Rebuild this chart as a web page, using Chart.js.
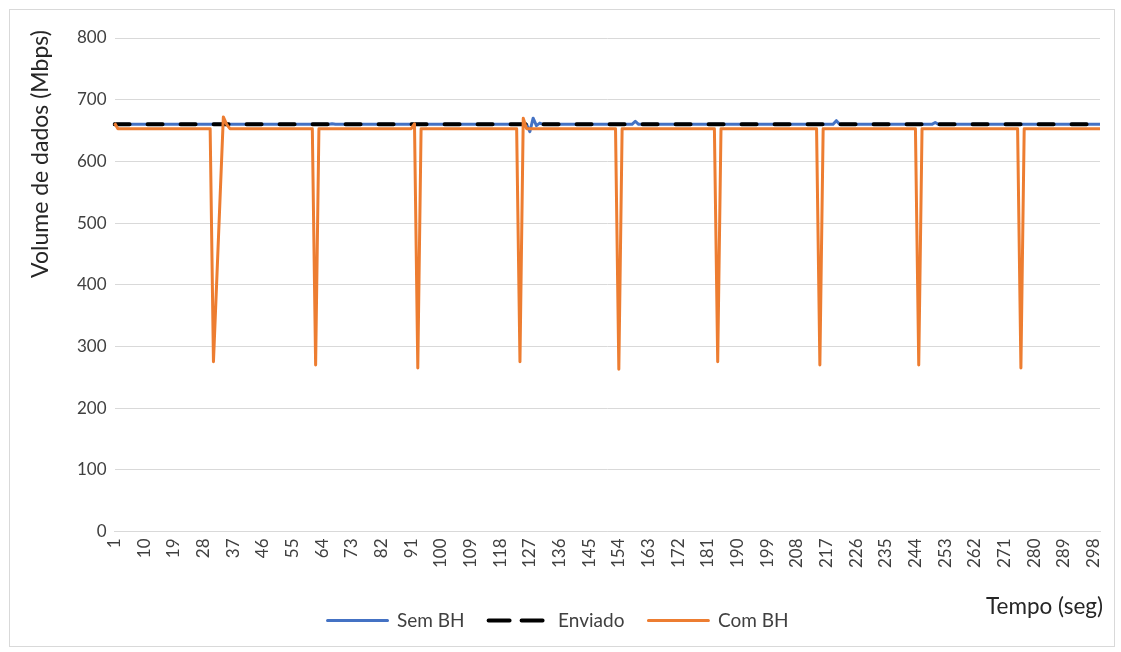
<!DOCTYPE html>
<html>
<head>
<meta charset="utf-8">
<script src="https://cdn.jsdelivr.net/npm/chart.js@4.4.1/dist/chart.umd.min.js"></script>
<style>
  html, body { margin: 0; padding: 0; background: #ffffff; }
  #wrap { position: relative; width: 1121px; height: 652px; }
  #frame { position: absolute; left: 9px; top: 9px; width: 1106px; height: 638px; border: 1px solid #d9d9d9; box-sizing: border-box; pointer-events: none; }
</style>
</head>
<body>
<div id="wrap">
  <canvas id="c" width="1121" height="652"></canvas>
  <div id="frame"></div>
</div>
<script>
// ---- Data ----
const tempo = [];
for (let t = 1; t <= 300; t++) tempo.push(String(t)); // category labels 1..300

const semBH = [
660,660,660,660,660,660,660,660,660,660,660,660,660,660,660,660,660,660,660,660,
660,660,660,660,660,660,660,660,660,660,660,660,660,660,660,660,660,660,660,660,
660,660,660,660,660,660,660,660,660,660,660,660,660,660,660,660,660,660,660,660,
660,660,660,660,660,660,661,660,660,660,660,660,660,660,660,660,660,660,660,660,
660,660,660,660,660,660,660,660,660,660,660,660,660,660,660,660,660,660,660,660,
660,660,660,660,660,660,660,660,660,660,660,660,660,660,660,660,660,660,660,660,
660,660,660,660,660,660,648,670,658,662,660,660,660,660,660,660,660,660,660,660,
660,660,660,660,660,660,660,660,660,660,660,660,660,660,660,660,660,660,665,660,
660,660,660,660,660,660,660,660,660,660,660,660,660,660,660,660,660,660,660,660,
660,660,660,660,660,660,660,660,660,660,660,660,660,660,660,660,660,660,660,660,
660,660,660,660,660,660,660,660,660,660,660,660,660,660,660,660,660,660,660,666,
660,660,660,660,660,660,660,660,660,660,660,660,660,660,660,660,660,660,660,660,
660,660,660,660,660,660,660,660,660,663,660,660,660,660,660,660,660,660,660,660,
660,660,660,660,660,660,660,660,660,660,660,660,660,660,660,660,660,660,660,660,
660,660,660,660,660,660,660,660,660,660,660,660,660,660,660,660,660,660,660,660
];

const enviado = [
660,660,660,660,660,660,660,660,660,660,660,660,660,660,660,660,660,660,660,660,
660,660,660,660,660,660,660,660,660,660,660,660,660,660,660,660,660,660,660,660,
660,660,660,660,660,660,660,660,660,660,660,660,660,660,660,660,660,660,660,660,
660,660,660,660,660,660,660,660,660,660,660,660,660,660,660,660,660,660,660,660,
660,660,660,660,660,660,660,660,660,660,660,660,660,660,660,660,660,660,660,660,
660,660,660,660,660,660,660,660,660,660,660,660,660,660,660,660,660,660,660,660,
660,660,660,660,660,660,660,660,660,660,660,660,660,660,660,660,660,660,660,660,
660,660,660,660,660,660,660,660,660,660,660,660,660,660,660,660,660,660,660,660,
660,660,660,660,660,660,660,660,660,660,660,660,660,660,660,660,660,660,660,660,
660,660,660,660,660,660,660,660,660,660,660,660,660,660,660,660,660,660,660,660,
660,660,660,660,660,660,660,660,660,660,660,660,660,660,660,660,660,660,660,660,
660,660,660,660,660,660,660,660,660,660,660,660,660,660,660,660,660,660,660,660,
660,660,660,660,660,660,660,660,660,660,660,660,660,660,660,660,660,660,660,660,
660,660,660,660,660,660,660,660,660,660,660,660,660,660,660,660,660,660,660,660,
660,660,660,660,660,660,660,660,660,660,660,660,660,660,660,660,660,660,660,660
];

const comBH = [
662,653,653,653,653,653,653,653,653,653,653,653,653,653,653,653,653,653,653,653,
653,653,653,653,653,653,653,653,653,653,275,407,540,672,660,653,653,653,653,653,
653,653,653,653,653,653,653,653,653,653,653,653,653,653,653,653,653,653,653,653,
653,270,653,653,653,653,653,653,653,653,653,653,653,653,653,653,653,653,653,653,
653,653,653,653,653,653,653,653,653,653,653,661,265,653,653,653,653,653,653,653,
653,653,653,653,653,653,653,653,653,653,653,653,653,653,653,653,653,653,653,653,
653,653,653,275,670,653,653,653,653,653,653,653,653,653,653,653,653,653,653,653,
653,653,653,653,653,653,653,653,653,653,653,653,653,263,653,653,653,653,653,653,
653,653,653,653,653,653,653,653,653,653,653,653,653,653,653,653,653,653,653,653,
653,653,653,275,653,653,653,653,653,653,653,653,653,653,653,653,653,653,653,653,
653,653,653,653,653,653,653,653,653,653,653,653,653,653,270,653,653,653,653,653,
653,653,653,653,653,653,653,653,653,653,653,653,653,653,653,653,653,653,653,653,
653,653,653,653,270,653,653,653,653,653,653,653,653,653,653,653,653,653,653,653,
653,653,653,653,653,653,653,653,653,653,653,653,653,653,653,265,653,653,653,653,
653,653,653,653,653,653,653,653,653,653,653,653,653,653,653,653,653,653,653,653
];

const yTicks = [0, 100, 200, 300, 400, 500, 600, 700, 800];
const xLabelStep = 9;
const seriesNames = ['Sem BH', 'Enviado', 'Com BH'];
const yTitle = 'Volume de dados (Mbps)';
const xTitle = 'Tempo (seg)';

const FONT = 'Lato, "Open Sans", "Liberation Sans", sans-serif';

// Draws axis titles as text at the positions used in the reference
const titlesPlugin = {
  id: 'titles',
  afterDraw(chart) {
    const ctx = chart.ctx;
    ctx.save();
    ctx.fillStyle = '#262626';
    ctx.font = '23px ' + FONT;
    ctx.translate(41, 154);
    ctx.rotate(-Math.PI / 2);
    ctx.textAlign = 'center';
    ctx.textBaseline = 'middle';
    ctx.fillText(yTitle, 0, 0);
    ctx.restore();
    ctx.save();
    ctx.fillStyle = '#262626';
    ctx.font = '22.5px ' + FONT;
    ctx.textAlign = 'right';
    ctx.textBaseline = 'middle';
    ctx.fillText(xTitle, 1103, 607);
    ctx.restore();
  }
};

new Chart(document.getElementById('c'), {
  type: 'line',
  data: {
    labels: tempo,
    datasets: [
      { label: seriesNames[0], data: semBH, borderColor: '#4472C4', backgroundColor: '#4472C4', borderWidth: 3, order: 2 },
      { label: seriesNames[1], data: enviado, borderColor: '#000000', backgroundColor: '#000000', borderWidth: 4, borderDash: [15, 18], borderCapStyle: 'round', order: 1 },
      { label: seriesNames[2], data: comBH, borderColor: '#ED7D31', backgroundColor: '#ED7D31', borderWidth: 3, order: 0 }
    ]
  },
  options: {
    responsive: false,
    animation: false,
    events: [],
    elements: { point: { radius: 0 }, line: { tension: 0, borderJoinStyle: 'round' } },
    layout: { padding: { left: 16, right: 21, top: 38, bottom: 12 } },
    plugins: {
      legend: {
        position: 'bottom',
        labels: {
          sort: (a, b) => a.datasetIndex - b.datasetIndex,
          boxWidth: 60,
          boxHeight: 0,
          padding: 24,
          color: '#404040',
          font: { family: FONT, size: 19 }
        }
      },
      tooltip: { enabled: false }
    },
    scales: {
      x: {
        type: 'category',
        offset: false,
        grid: { display: false, drawTicks: false },
        border: { display: true, color: '#d9d9d9', width: 1 },
        afterFit: (scale) => { scale.height += 12; scale.paddingRight = 0; scale.paddingLeft = 0; },
        ticks: {
          autoSkip: false,
          minRotation: 90,
          maxRotation: 90,
          padding: 7,
          color: '#404040',
          font: { family: FONT, size: 17 },
          callback: function (v, i) { return i % xLabelStep === 0 ? tempo[i] : ''; }
        }
      },
      y: {
        min: yTicks[0],
        max: yTicks[yTicks.length - 1],
        afterBuildTicks: (axis) => { axis.ticks = yTicks.map(v => ({ value: v })); },
        afterFit: (scale) => { scale.width += 53; },
        grid: { color: '#d9d9d9', lineWidth: 1, drawTicks: false },
        border: { display: false },
        ticks: {
          padding: 8,
          color: '#404040',
          font: { family: FONT, size: 17 }
        }
      }
    }
  },
  plugins: [titlesPlugin]
});
</script>
</body>
</html>
